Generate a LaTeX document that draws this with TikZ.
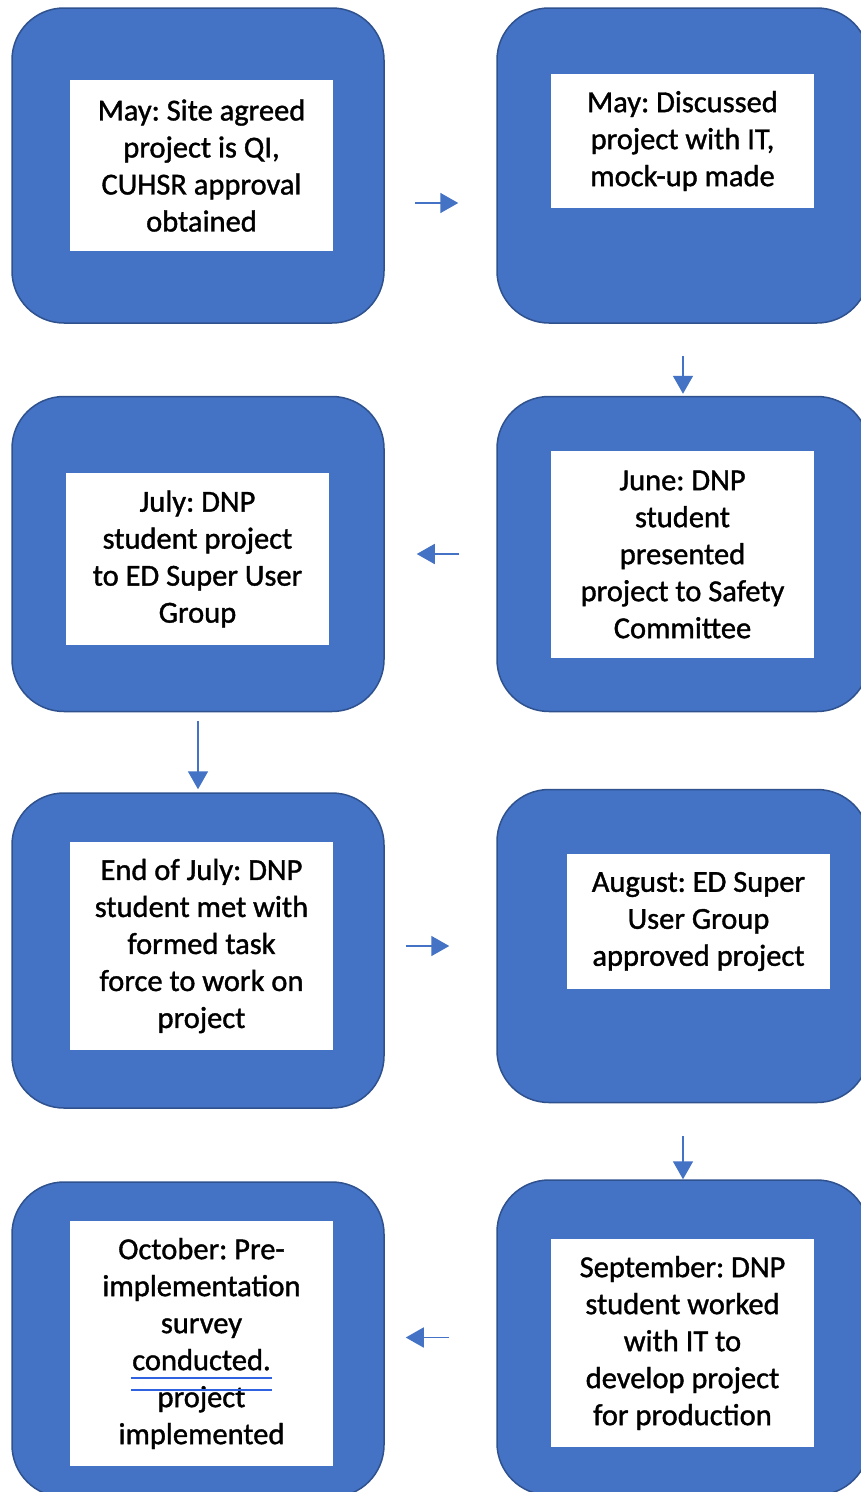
\documentclass[tikz,border=0pt]{standalone}
\usepackage{fontspec}
\setmainfont{Carlito}
\newfontfamily\panelfont{Carlito}[FakeBold=1.2]
\usetikzlibrary{arrows.meta}
\definecolor{officeblue}{HTML}{4472C4}
\definecolor{officeedge}{HTML}{2F528F}
\definecolor{spellblue}{HTML}{2E62E0}
\tikzset{
  stage/.style={draw=officeedge, line width=1.5pt, fill=officeblue,
    rounded corners=52pt, minimum width=372pt, inner sep=0pt},
  label/.style={fill=white, inner sep=0pt, minimum width=263pt, align=center,
    font=\frenchspacing\panelfont\fontsize{30.5}{37}\selectfont},
  flow/.style={draw=officeblue, line width=1.7pt,
    -{Triangle[length=18pt 0, width=20pt 0]}},
}
\begin{document}
\begin{tikzpicture}[x=1pt,y=-1pt]
\useasboundingbox (0,0) rectangle (861,1492);
\clip (0,0) rectangle (861,1492);
\fill[white] (0,0) rectangle (861,1492);

% outer rounded stages
\node[stage, minimum height=315pt] (s1) at (198,165.5) {};
\node[stage, minimum height=315pt] (s2) at (683,165.5) {};
\node[stage, minimum height=315pt] (s3) at (198,554) {};
\node[stage, minimum height=315pt] (s4) at (683,554) {};
\node[stage, minimum height=315pt] (s5) at (198,950.5) {};
\node[stage, minimum height=313pt] (s6) at (683,946) {};
\node[stage, minimum height=315pt] (s7) at (683,1337.5) {};
\node[stage, minimum height=315pt] (s8) at (198,1339.5) {};

% white text panels
\node[label, minimum height=171pt] (t1) at (201.5,165.5)
  {May: Site agreed\\project is QI,\\CUHSR approval\\obtained};
\node[label, minimum height=134pt] (t2) at (682.5,141)
  {May: Discussed\\project with IT,\\mock-up made};
\node[label, minimum height=172pt] (t3) at (197.5,559)
  {July: DNP\\student project\\to ED Super User\\Group};
\node[label, minimum height=207pt] (t4) at (682.5,554.5)
  {June: DNP\\student\\presented\\project to Safety\\Committee};
\node[label, minimum height=208pt] (t5) at (201.5,946)
  {End of July: DNP\\student met with\\formed task\\force to work on\\project};
\node[label, minimum height=135pt] (t6) at (698.5,921.5)
  {August: ED Super\\User Group\\approved project};
\node[label, minimum height=208pt] (t7) at (682.5,1343)
  {September: DNP\\student worked\\with IT to\\develop project\\for production};
\node[label, minimum height=245pt] (t8) at (201.5,1343.5)
  {October: Pre-\\implementation\\survey\\conducted.\\project\\implemented};

% spell-check underline beneath "conducted."
\draw[spellblue, line width=2.6pt] (131,1378) -- (272,1378);
\draw[spellblue, line width=2.6pt] (131,1390) -- (272,1390);

% connectors between stages
\draw[flow, shorten <=30pt, shorten >=38pt]
  ([yshift=-37.5pt]s1.east) -- ([yshift=-37.5pt]s1.east -| s2.west);
\draw[flow, shorten <=32pt, shorten >=2pt] (s2.south) -- (s4.north);
\draw[flow, shorten <=37pt, shorten >=32pt] (s4.west) -- (s4.west -| s3.east);
\draw[flow, shorten <=9pt, shorten >=3pt] (s3.south) -- (s5.north);
\draw[flow, shorten <=21pt, shorten >=47pt] (s5.east |- s6.west) -- (s6.west);
\draw[flow, shorten <=33pt, shorten >=0pt] (s6.south) -- (s7.north);
\draw[flow, shorten <=47pt, shorten >=21pt] (s7.west) -- (s7.west -| s8.east);
\end{tikzpicture}
\end{document}
